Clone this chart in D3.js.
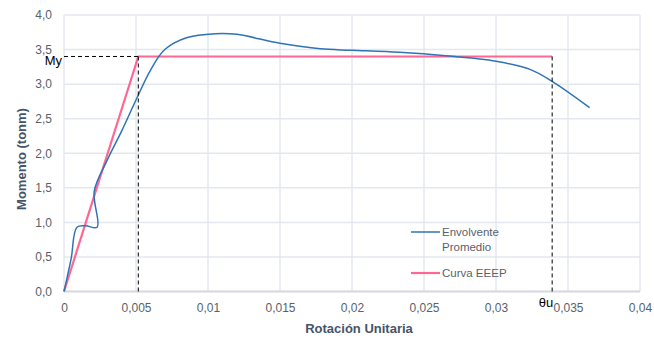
<!DOCTYPE html>
<html>
<head>
  <meta charset="UTF-8">
  <style>
    body { margin: 0; background: #fff; }
    svg { font-family: "Liberation Sans", Arial, sans-serif; }
    .tick text { fill: #595f6b; font-size: 12px; }
    .grid line { stroke: #e3e7ee; stroke-width: 1.5px; }
    .title { font-family: "Liberation Sans Narrow", "Arial Narrow", sans-serif; font-stretch: condensed; }
  </style>
</head>
<body>
  <svg></svg>
  <script src="https://d3js.org/d3.v7.min.js"></script>
  <script>
    // blue curve (envolvente promedio): [rotation, moment]
    let envolvente = [
      [0, 0], [0.0005, 0.48], [0.0009, 0.93], [0.0015, 0.95], [0.0023, 0.93],
      [0.0021, 1.45], [0.003, 1.9], [0.004, 2.32], [0.005, 2.77], [0.006, 3.2],
      [0.007, 3.5], [0.0085, 3.67], [0.0105, 3.73], [0.012, 3.72], [0.015, 3.59],
      [0.0178, 3.51], [0.02, 3.49], [0.0233, 3.46], [0.0265, 3.41], [0.03, 3.33],
      [0.0324, 3.21], [0.0339, 3.04], [0.0365, 2.66]
    ];
    // bilinear EEEP curve
    let eeep = [[0, 0], [0.00516, 3.4], [0.0339, 3.4]];
    let My = 3.4, thetaY = 0.00516, thetaU = 0.0339;

    let xTicks = [0, 0.005, 0.01, 0.015, 0.02, 0.025, 0.03, 0.035, 0.04];
    let xTickLabels = ["0", "0,005", "0,01", "0,015", "0,02", "0,025", "0,03", "0,035", "0,04"];
    let yTicks = [0, 0.5, 1, 1.5, 2, 2.5, 3, 3.5, 4];
    let yTickLabels = ["0,0", "0,5", "1,0", "1,5", "2,0", "2,5", "3,0", "3,5", "4,0"];

    let width = 654, height = 341;
    let svg = d3.select("svg").attr("width", width).attr("height", height);

    let x = d3.scaleLinear().domain([0, 0.04]).range([64, 640]);
    let y = d3.scaleLinear().domain([0, 4]).range([291.5, 15]);

    // grid
    let grid = svg.append("g").attr("class", "grid");
    grid.selectAll(".gx").data(xTicks).enter().append("line")
      .attr("x1", d => x(d)).attr("x2", d => x(d))
      .attr("y1", y(0)).attr("y2", y(4));
    grid.selectAll(".gy").data(yTicks).enter().append("line")
      .attr("x1", x(0)).attr("x2", x(0.04))
      .attr("y1", d => y(d)).attr("y2", d => y(d));

    // bottom axis line
    svg.append("line")
      .attr("x1", x(0)).attr("x2", x(0.04))
      .attr("y1", y(0)).attr("y2", y(0))
      .attr("stroke", "#d5dae2").attr("stroke-width", 2);

    // axes
    let xAxis = d3.axisBottom(x).tickValues(xTicks)
      .tickFormat((d, i) => xTickLabels[i]).tickSize(0).tickPadding(12);
    svg.append("g").attr("transform", "translate(0," + y(0) + ")").call(xAxis)
      .call(g => g.select(".domain").remove());

    let yAxis = d3.axisLeft(y).tickValues(yTicks)
      .tickFormat((d, i) => yTickLabels[i]).tickSize(0).tickPadding(12);
    svg.append("g").attr("transform", "translate(" + x(0) + ",0)").call(yAxis)
      .call(g => g.select(".domain").remove());

    // axis titles
    svg.append("text").attr("class", "title")
      .attr("x", 359).attr("y", 333)
      .attr("text-anchor", "middle")
      .attr("font-size", 13).attr("font-weight", "bold").attr("fill", "#44546a")
      .text("Rotación Unitaria");
    svg.append("text").attr("class", "title")
      .attr("transform", "translate(26,159) rotate(-90)")
      .attr("text-anchor", "middle")
      .attr("font-size", 13).attr("font-weight", "bold").attr("fill", "#44546a")
      .text("Momento (tonm)");

    // curves
    let line = d3.line().x(d => x(d[0])).y(d => y(d[1]));
    svg.append("path")
      .datum(eeep)
      .attr("d", line)
      .attr("fill", "none").attr("stroke", "#ff6693").attr("stroke-width", 2.2);

    svg.append("path")
      .datum(envolvente)
      .attr("d", line.curve(d3.curveCatmullRom.alpha(0.5)))
      .attr("fill", "none").attr("stroke", "#2e74b5").attr("stroke-width", 1.5);

    // dashed guide lines
    let dash = svg.append("g").attr("stroke", "#000").attr("stroke-width", 1)
      .attr("stroke-dasharray", "4,3");
    dash.append("line")
      .attr("x1", x(0)).attr("x2", x(thetaY)).attr("y1", y(My)).attr("y2", y(My));
    dash.append("line")
      .attr("x1", x(thetaY)).attr("x2", x(thetaY)).attr("y1", y(My)).attr("y2", y(0));
    dash.append("line")
      .attr("x1", x(thetaU)).attr("x2", x(thetaU)).attr("y1", y(My)).attr("y2", y(0));

    svg.append("text")
      .attr("x", x(0) - 2).attr("y", y(My) + 9)
      .attr("text-anchor", "end").attr("font-size", 13).attr("fill", "#000")
      .text("My");
    svg.append("text")
      .attr("x", x(thetaU) + 1).attr("y", y(0) + 15)
      .attr("text-anchor", "end").attr("font-size", 13).attr("fill", "#000")
      .text("θu");

    // legend
    let legend = [
      { name: ["Envolvente", "Promedio"], color: "#2e74b5", w: 1.5, y: 232 },
      { name: ["Curva EEEP"], color: "#ff6693", w: 2.2, y: 273 }
    ];
    let lg = svg.append("g");
    legend.forEach(l => {
      lg.append("line").attr("x1", 411).attr("x2", 440)
        .attr("y1", l.y).attr("y2", l.y)
        .attr("stroke", l.color).attr("stroke-width", l.w);
      l.name.forEach((t, i) => {
        lg.append("text").attr("x", 442).attr("y", l.y + 4 + i * 15)
          .attr("font-size", 11.5).attr("fill", "#595f6b").text(t);
      });
    });
  </script>
</body>
</html>
